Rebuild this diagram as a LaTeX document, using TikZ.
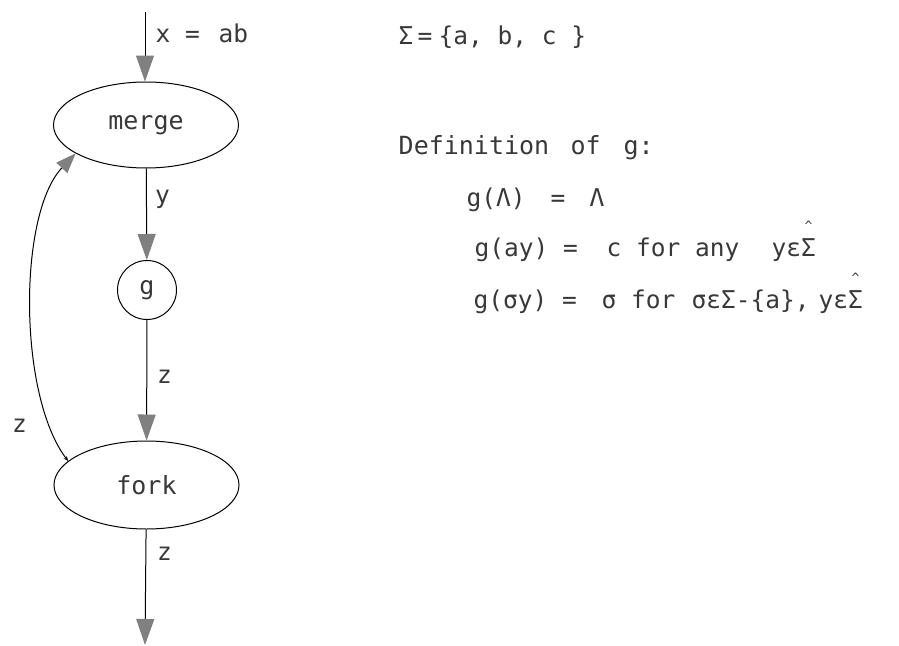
\documentclass[tikz,border=0pt]{standalone}
\usepackage{fontspec}
\setmainfont{DejaVu Sans Mono}
\usetikzlibrary{arrows.meta,shapes.geometric}
\newcommand\run[2]{\makebox[0pt][l]{\hspace*{#1pt}#2}}
\newcommand\hatsig{\makebox[0pt][l]{\makebox[0.602em][c]{\raisebox{1.05em}{\fontsize{13}{13}\selectfont\textasciicircum}}}Σ}
\begin{document}
\begin{tikzpicture}[x=1pt,y=-1pt,
  txt/.style={font=\fontsize{24.5}{28}\selectfont, text=black!78, inner sep=0, anchor=base west},
  flow/.style={draw=black, line width=1pt, -{Triangle[width=18pt,length=26pt,color=black!50]}},
  proc/.style={draw, line width=1pt, ellipse, minimum width=185pt, minimum height=86pt, inner sep=0, font=\fontsize{25}{30}\selectfont, text=black!78},
  fn/.style={draw, line width=1pt, circle, minimum size=59pt, inner sep=0, font=\fontsize{25}{30}\selectfont, text=black!78}]
\useasboundingbox (0,0) rectangle (899,645);
% nodes
\node[proc] (merge) at (146,125) {merge};
\node[fn] (g) at (147,290) {g};
\node[proc, minimum height=88pt] (fork) at (146.5,485) {fork};
\coordinate (in) at (145,12);
\coordinate (out) at (145,645);
% connectors
\draw[flow] (in) -- (in |- merge.north);
\draw[flow] (merge) -- (g);
\draw[flow] (g) -- (fork);
\draw[flow] (fork) -- (out);
\draw[line width=1pt, {Stealth[length=5pt,width=4pt]}-{Triangle[width=15pt,length=20pt,color=black!50]}]
  (fork.163) .. controls (18,395) and (18,214) .. (merge.202);
% connector labels
\node[txt] (lx) at (155,42) {\run{0}{x =}\run{63}{ab}};
\node[txt] (ly) at (155,203) {y};
\node[txt] (lz1) at (157,383) {z};
\node[txt] (lz2) at (157,560) {z};
\node[txt] (lz3) at (12,432) {z};
% definitions
\node[txt] (sig) at (398,44) {\run{0}{Σ}\run{19}{=}\run{40}{\{a, b, c \}}};
\node[txt, font=\fontsize{25}{30}\selectfont] (def) at (398,154) {\run{0}{Definition}\run{172}{of}\run{225}{g:}};
\node[txt] (l1) at (466,206) {\run{0}{g(Λ)}\run{84}{=}\run{123}{Λ}};
\node[txt] (l2) at (474,256) {\run{0}{g(ay) =}\run{132}{c for any}\run{297}{yε\hatsig}};
\node[txt] (l3) at (473,308) {\run{0}{g(σy) =}\run{128}{σ for}\run{218}{σεΣ-\{a\},}\run{345}{yε\hatsig}};
\end{tikzpicture}
\end{document}
